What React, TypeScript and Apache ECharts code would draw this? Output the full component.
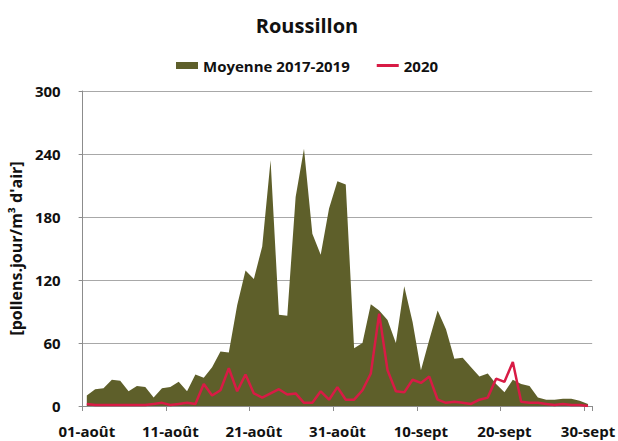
import React, { useEffect, useRef } from "react";
import * as echarts from "echarts";

const title = "Roussillon";
const seriesNames = ["Moyenne 2017-2019", "2020"];
const yAxisName = "[pollens.jour/m³ d'air]";

// categories: 01-août ... 31-août, 01-sept ... 30-sept
const pad = (n: number) => (n < 10 ? "0" + n : String(n));
const augustDays: string[] = Array.from({ length: 31 }, (_, k) => pad(k + 1) + "-août");
const septemberDays: string[] = Array.from({ length: 30 }, (_, k) => pad(k + 1) + "-sept");
const categories: string[] = [...augustDays, ...septemberDays];

const moyenne2017_2019: number[] = [
  10, 16, 17, 25, 24, 14, 19, 18, 8, 17,
  18, 23, 14, 30, 27, 37, 52, 51, 96, 129,
  121, 152, 234, 87, 86, 199, 245, 164, 144, 188,
  214, 211, 55, 60, 97, 91, 82, 60, 114, 80,
  34, 63, 91, 73, 45, 46, 37, 28, 31, 21,
  13, 25, 21, 19, 8, 6, 6, 7, 7, 5,
  2,
];

const values2020: number[] = [
  2, 1, 1, 1, 1, 1, 1, 1, 2, 3,
  1, 2, 3, 2, 21, 10, 15, 36, 14, 30,
  12, 8, 12, 16, 11, 12, 3, 3, 14, 6,
  18, 6, 6, 15, 31, 88, 34, 14, 13, 25,
  22, 28, 6, 3, 4, 3, 2, 6, 8, 26,
  23, 42, 4, 3, 3, 2, 1, 2, 1, 1,
  0,
];

const yMin = 0;
const yMax = 300;
const yInterval = 60;

const OLIVE = "#5e5f2a";
const RED = "#d81b45";
const FONT = "'Open Sans', 'Noto Sans', sans-serif";

export default function App() {
  const ref = useRef<HTMLDivElement>(null);
  useEffect(() => {
    if (!ref.current) return;
    const chart = echarts.init(ref.current, undefined, { renderer: "svg" });
    chart.setOption({
      animation: false,
      backgroundColor: "#ffffff",
      title: {
        text: title,
        left: 302,
        textAlign: "center",
        top: 10,
        textStyle: { fontFamily: FONT, fontWeight: "bold", fontSize: 20, color: "#111" },
      },
      legend: {
        left: 171,
        top: 53,
        itemGap: 27,
        itemWidth: 22,
        itemHeight: 7,
        symbolKeepAspect: true,
        textStyle: { fontFamily: FONT, fontWeight: "bold", fontSize: 15, color: "#111" },
        data: [
          { name: seriesNames[0], icon: "rect", itemStyle: { color: OLIVE } },
          { name: seriesNames[1], icon: "path://M0,0H22V3H0Z", itemStyle: { color: RED } },
        ],
      },
      grid: { left: 77, top: 91, right: 13, bottom: 35, containLabel: false },
      xAxis: {
        type: "category",
        data: categories,
        boundaryGap: true,
        axisLine: { lineStyle: { color: "#8c8c8c", width: 1 } },
        axisTick: { show: true, interval: 9, length: 5, alignWithLabel: false, lineStyle: { color: "#8c8c8c" } },
        axisLabel: {
          interval: 9,
          margin: 17,
          fontFamily: FONT,
          fontWeight: "bold",
          fontSize: 15,
          color: "#111",
        },
        splitLine: { show: false },
      },
      yAxis: {
        type: "value",
        min: yMin,
        max: yMax,
        interval: yInterval,
        name: yAxisName,
        nameLocation: "middle",
        nameGap: 55,
        nameRotate: 90,
        nameTextStyle: { fontFamily: FONT, fontWeight: "bold", fontSize: 16, color: "#111" },
        axisLine: { show: true, lineStyle: { color: "#8c8c8c", width: 1 } },
        axisTick: { show: true, length: 4, lineStyle: { color: "#8c8c8c" } },
        axisLabel: { margin: 22, fontFamily: FONT, fontWeight: "bold", fontSize: 15, color: "#111" },
        splitLine: { show: true, lineStyle: { color: "#a8a8a8", width: 1.2 } },
      },
      series: [
        {
          name: seriesNames[0],
          type: "line",
          data: moyenne2017_2019,
          symbol: "none",
          lineStyle: { width: 0, color: OLIVE },
          itemStyle: { color: OLIVE },
          areaStyle: { color: OLIVE, opacity: 1 },
          z: 2,
        },
        {
          name: seriesNames[1],
          type: "line",
          data: values2020,
          symbol: "none",
          lineStyle: { width: 2.5, color: RED },
          itemStyle: { color: RED },
          z: 3,
        },
      ],
    });
    return () => chart.dispose();
  }, []);
  return (
    <div
      ref={ref}
      style={{ position: "fixed", left: 0, top: 0, width: 618, height: 441, background: "#fff" }}
    />
  );
}
